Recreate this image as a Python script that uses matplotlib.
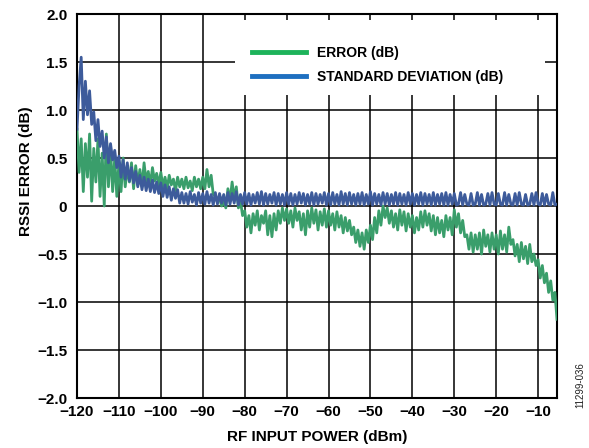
import numpy as np
import matplotlib
matplotlib.use("Agg")
import matplotlib.pyplot as plt
from matplotlib.patches import Rectangle
from matplotlib.lines import Line2D

plt.rcParams['font.family'] = ['Liberation Sans', 'DejaVu Sans']

# RF input power sweep (dBm), 0.5 dB steps from -120 to -5.5
x_start, x_stop, x_step = -120.0, -5.5, 0.5
power = np.arange(x_start, x_stop + x_step / 2, x_step)

error_db = [
    0.80, 0.35, 0.70, 0.15, 0.65, 0.30, 0.75, 0.05, 0.60, 0.25,
    0.70, 0.10, 0.55, 0.00, 0.75, 0.20, 0.60, 0.15, 0.50, 0.10,
    0.45, 0.15, 0.50, 0.20, 0.40, 0.25, 0.45, 0.18, 0.42, 0.22,
    0.38, 0.20, 0.45, 0.25, 0.36, 0.22, 0.40, 0.26, 0.34, 0.22,
    0.35, 0.20, 0.30, 0.18, 0.32, 0.22, 0.28, 0.16, 0.30, 0.20,
    0.28, 0.18, 0.30, 0.19, 0.26, 0.16, 0.30, 0.20, 0.28, 0.18,
    0.30, 0.18, 0.38, 0.20, 0.32, 0.12, 0.10, 0.04, 0.08, 0.00,
    0.05, -0.02, 0.18, 0.05, 0.25, 0.08, 0.20, -0.02, 0.05, -0.10,
    -0.05, -0.22, -0.10, -0.28, -0.08, -0.20, -0.05, -0.25, -0.10, -0.18,
    -0.05, -0.30, -0.10, -0.32, -0.08, -0.25, -0.05, -0.18, -0.02, -0.15,
    -0.03, -0.18, -0.05, -0.22, -0.02, -0.15, -0.06, -0.25, -0.08, -0.30,
    -0.05, -0.22, -0.02, -0.18, -0.04, -0.25, -0.06, -0.20, -0.03, -0.22,
    -0.05, -0.20, -0.08, -0.25, -0.06, -0.22, -0.10, -0.28, -0.12, -0.26,
    -0.15, -0.30, -0.22, -0.38, -0.25, -0.42, -0.28, -0.45, -0.25, -0.38,
    -0.20, -0.35, -0.12, -0.28, -0.05, -0.20, 0.00, -0.12, -0.02, -0.18,
    -0.05, -0.22, -0.08, -0.25, -0.04, -0.20, -0.06, -0.26, -0.08, -0.22,
    -0.10, -0.28, -0.12, -0.25, -0.06, -0.22, -0.05, -0.20, -0.08, -0.26,
    -0.10, -0.30, -0.12, -0.28, -0.15, -0.32, -0.10, -0.25, -0.12, -0.30,
    -0.04, -0.22, -0.08, -0.28, -0.15, -0.32, -0.30, -0.45, -0.28, -0.48,
    -0.30, -0.45, -0.28, -0.50, -0.25, -0.42, -0.30, -0.48, -0.28, -0.45,
    -0.30, -0.50, -0.26, -0.45, -0.30, -0.48, -0.22, -0.40, -0.35, -0.52,
    -0.40, -0.58, -0.38, -0.55, -0.42, -0.60, -0.40, -0.58, -0.50, -0.62,
    -0.56, -0.75, -0.62, -0.80, -0.70, -0.90, -0.78, -0.98, -0.90, -1.18,
]

std_dev_db = [
    0.80, 1.25, 1.55, 0.90, 1.30, 0.95, 1.20, 0.85, 0.98, 0.68,
    0.90, 0.62, 0.78, 0.50, 0.72, 0.45, 0.65, 0.48, 0.58, 0.40,
    0.52, 0.30, 0.48, 0.28, 0.45, 0.26, 0.40, 0.24, 0.36, 0.20,
    0.32, 0.17, 0.30, 0.16, 0.28, 0.15, 0.27, 0.14, 0.25, 0.13,
    0.24, 0.10, 0.22, 0.09, 0.20, 0.06, 0.18, 0.08, 0.17, 0.03,
    0.14, 0.03, 0.13, 0.02, 0.15, 0.04, 0.12, 0.01, 0.14, 0.03,
    0.13, 0.02, 0.15, 0.03, 0.12, 0.01, 0.14, 0.02, 0.13, 0.03,
    0.12, 0.01, 0.14, 0.02, 0.13, 0.03, 0.15, 0.01, 0.12, 0.02,
    0.14, 0.02, 0.13, 0.01, 0.12, 0.03, 0.14, 0.02, 0.15, 0.01,
    0.13, 0.02, 0.12, 0.03, 0.14, 0.01, 0.13, 0.02, 0.12, 0.01,
    0.14, 0.02, 0.13, 0.01, 0.12, 0.02, 0.14, 0.03, 0.13, 0.01,
    0.12, 0.02, 0.14, 0.01, 0.13, 0.02, 0.12, 0.03, 0.14, 0.01,
    0.13, 0.01, 0.14, 0.02, 0.12, 0.01, 0.15, 0.02, 0.13, 0.01,
    0.14, 0.02, 0.12, 0.01, 0.13, 0.02, 0.14, 0.01, 0.12, 0.02,
    0.15, 0.01, 0.13, 0.02, 0.12, 0.01, 0.14, 0.02, 0.13, 0.01,
    0.12, 0.02, 0.14, 0.01, 0.13, 0.02, 0.12, 0.01, 0.14, 0.02,
    0.13, 0.01, 0.12, 0.02, 0.14, 0.01, 0.13, 0.02, 0.12, 0.01,
    0.14, 0.01, 0.12, 0.02, 0.13, 0.01, 0.14, 0.01, 0.12, 0.02,
    0.13, 0.01, 0.02, 0.14, 0.01, 0.12, 0.02, 0.01, 0.13, 0.01,
    0.02, 0.14, 0.01, 0.12, 0.01, 0.02, 0.13, 0.01, 0.14, 0.02,
    0.01, 0.13, 0.02, 0.01, 0.14, 0.01, 0.12, 0.02, 0.01, 0.13,
    0.01, 0.14, 0.02, 0.01, 0.12, 0.01, 0.02, 0.13, 0.01, 0.14,
    0.02, 0.01, 0.13, 0.01, 0.12, 0.02, 0.01, 0.14, 0.01, 0.02,
]

x_ticks = [-120, -110, -100, -90, -80, -70, -60, -50, -40, -30, -20, -10]
x_ticklabels = ["\u2212120", "\u2212110", "\u2212100", "\u221290", "\u221280", "\u221270",
                "\u221260", "\u221250", "\u221240", "\u221230", "\u221220", "\u221210"]
y_ticks = [-2.0, -1.5, -1.0, -0.5, 0, 0.5, 1.0, 1.5, 2.0]
y_ticklabels = ["\u22122.0", "\u22121.5", "\u22121.0", "\u22120.5", "0", "0.5", "1.0", "1.5", "2.0"]

series_labels = ["ERROR (dB)", "STANDARD DEVIATION (dB)"]

W, H = 589, 448
fig = plt.figure(figsize=(W / 100, H / 100), dpi=100)
ax = fig.add_axes([77 / W, 1 - 398 / H, (557 - 77) / W, (398 - 14) / H])

green_data = "#3a9e6b"
blue_data = "#3d5b9b"
green_leg = "#1db35a"
blue_leg = "#1e6fc0"

ax.plot(power, error_db, color=green_data, lw=2.0, zorder=3)
ax.plot(power, std_dev_db, color=blue_data, lw=2.0, zorder=4)

ax.set_xlim(-120, -5.5)
ax.set_ylim(-2.0, 2.0)
ax.set_xticks(x_ticks)
ax.set_xticklabels(x_ticklabels)
ax.set_yticks(y_ticks)
ax.set_yticklabels(y_ticklabels)
ax.tick_params(axis='both', length=0, labelsize=11)
ax.tick_params(axis='x', pad=5)
ax.tick_params(axis='y', pad=7)
for lab in ax.get_xticklabels() + ax.get_yticklabels():
    lab.set_fontweight('bold')

ax.set_axisbelow(True)
ax.grid(True, color='black', lw=1.1)
for s in ax.spines.values():
    s.set_linewidth(1.5)
    s.set_color('black')

ax.set_xlabel("RF INPUT POWER (dBm)", fontsize=11, fontweight='bold')
ax.set_ylabel("RSSI ERROR (dB)", fontsize=11, fontweight='bold')
ax.xaxis.set_label_coords(0.5, -(437 - 398) / 384, transform=ax.transAxes)
ax.xaxis.label.set_va('center')
ax.yaxis.set_label_coords((26 - 77) / 480, (398 - 171) / 384, transform=ax.transAxes)
ax.yaxis.label.set_va('center')

# white legend area hiding grid
ax.add_patch(Rectangle((0.329, 0.789), 0.975 - 0.329, 0.984 - 0.789,
                       transform=ax.transAxes, facecolor='white', edgecolor='none', zorder=1))

handles = [Line2D([0], [0], color=green_leg, lw=3.5),
           Line2D([0], [0], color=blue_leg, lw=3.5)]
leg = ax.legend(handles, series_labels, loc='upper left', bbox_to_anchor=(0.365, 0.917),
                frameon=False, borderpad=0, borderaxespad=0, handlelength=3.9,
                handletextpad=0.75, labelspacing=0.7,
                prop={'weight': 'bold', 'size': 10})
leg.set_zorder(5)

fig.text(580 / W, 1 - 385 / H, "11299-036", rotation=90, fontsize=7,
         ha='center', va='center', color='#222222')

fig.savefig("out.png", dpi=100)
